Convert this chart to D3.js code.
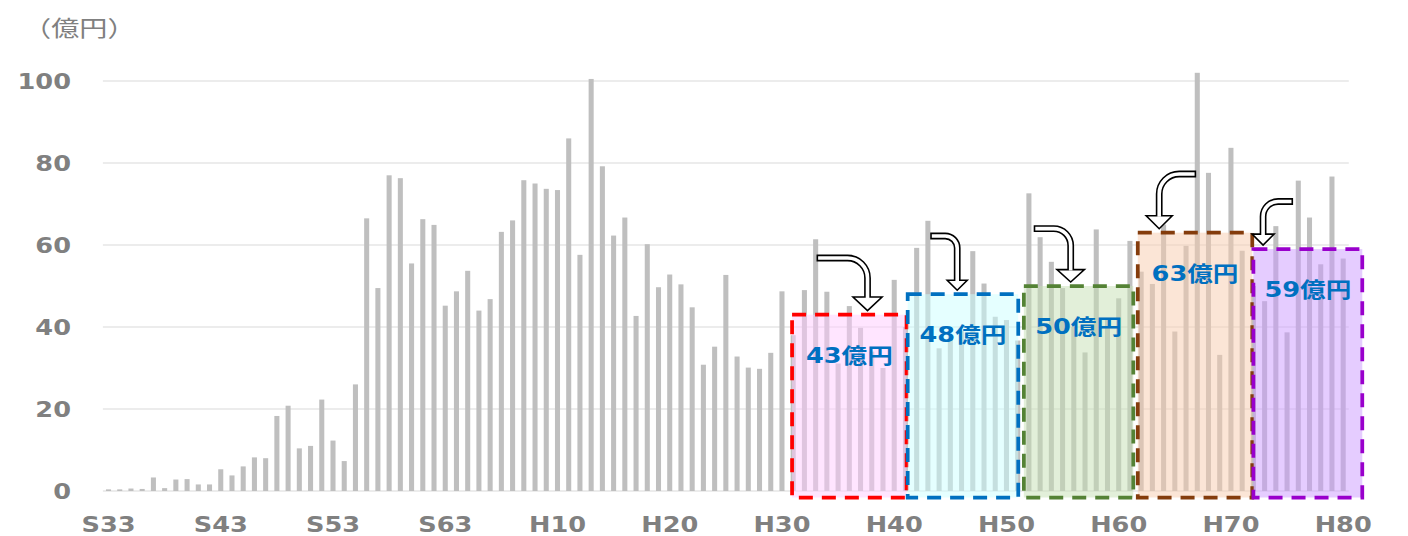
<!DOCTYPE html>
<html><head><meta charset="utf-8">
<script src="https://cdn.jsdelivr.net/npm/d3@7"></script>
<style>html,body{margin:0;padding:0;background:#fff;} svg{display:block;}</style>
</head><body><svg id="chart" width="1408" height="536"></svg>
<script>
// ---------- data ----------
const showaYears = d3.range(33, 64).map(n => "S" + n);   // S33..S63
const heiseiYears = d3.range(1, 81).map(n => "H" + n);   // H1..H80
const categories = showaYears.concat(heiseiYears);

const showaValues = [0.4, 0.4, 0.6, 0.5, 3.3, 0.7, 2.8, 2.9, 1.6, 1.6,
  5.3, 3.8, 6.0, 8.2, 8.0, 18.3, 20.8, 10.4, 11.0, 22.3,
  12.3, 7.3, 26.0, 66.5, 49.5, 77.0, 76.3, 55.5, 66.3, 64.9, 45.2];
const heiseiValues = [
  48.7, 53.7, 44.0, 46.8, 63.2, 66.0, 75.8, 75.0, 73.7, 73.4,
  86.0, 57.6, 100.5, 79.2, 62.3, 66.7, 42.7, 60.2, 49.7, 52.8,
  50.4, 44.8, 30.8, 35.2, 52.7, 32.8, 30.1, 29.8, 33.7, 48.7,
  38.0, 49.0, 61.4, 48.6, 31.1, 45.1, 39.8, 34.0, 30.0, 51.5,
  40.0, 59.3, 65.9, 34.8, 38.0, 39.0, 58.5, 50.6, 42.5, 41.7,
  36.7, 72.6, 61.9, 55.9, 49.5, 40.0, 33.8, 63.8, 42.0, 47.0,
  61.0, 53.5, 50.5, 65.0, 38.9, 59.8, 102.0, 77.6, 33.2, 83.7,
  58.6, 50.0, 46.3, 64.6, 38.7, 75.7, 66.7, 55.3, 76.7, 56.7];
const values = showaValues.concat(heiseiValues);

const xTickLabels = ["S33","S43","S53","S63","H10","H20","H30","H40","H50","H60","H70","H80"];
const yTicks = [0, 20, 40, 60, 80, 100];
const unitLabel = "（億円）";

const periodStart = ["H31","H41","H51","H61","H71"];
const periodEnd   = ["H40","H50","H60","H70","H80"];
const periodAverages = [43, 48, 50, 63, 59];
const periodLabels = periodAverages.map(v => v + "億円");

// ---------- layout / style ----------
const plotLeft = 102.9, plotRight = 1348.8;
const y0px = 491, y100px = 81;
const gray = "#808080";
const boxStroke = ["#ff0000", "#0070c0", "#548235", "#843c0c", "#9900cc"];
const boxFill   = ["#ffccff", "#ccffff", "#c5e0b4", "#f8cbad", "#cc99ff"];
// fractional offsets (in steps) of each box's left/right edge from the period's first/last bar centre
const boxOffsets = [[-0.1, 1.1], [0.2, 1.05], [0.55, 1.3], [0.7, 1.9], [1.0, 1.7]];
// bent arrows: vertical position as fraction of box width, shaft rise above tip, tail dx, radius, head half-width, head length
const arrows = [
  {frac: 0.659, rise: 52.7, tail: -51, r: 20, half: 14.5, len: 13.7},
  {frac: 0.448, rise: 54.2, tail: -27, r: 12, half: 10,   len: 10},
  {frac: 0.428, rise: 53.4, tail: -37, r: 17, half: 13.7, len: 12.4},
  {frac: 0.187, rise: 54.7, tail: 37,  r: 20, half: 13,   len: 13},
  {frac: 0.089, rise: 43.6, tail: 30,  r: 15, half: 11,   len: 11}
];

const svg = d3.select("#chart");
const x = d3.scaleBand().domain(categories).range([plotLeft, plotRight])
  .paddingInner(0.55).paddingOuter(0.275);
const y = d3.scaleLinear().domain([0, 100]).range([y0px, y100px]);
const step = x.step();
const xc = c => x(c) + x.bandwidth() / 2;

// gridlines
svg.append("g").selectAll("line").data(yTicks).join("line")
  .attr("x1", plotLeft).attr("x2", plotRight)
  .attr("y1", d => y(d)).attr("y2", d => y(d))
  .attr("stroke", "#d9d9d9").attr("stroke-width", 1);

// bars
svg.append("g").selectAll("rect").data(values).join("rect")
  .attr("x", (d, i) => x(categories[i]))
  .attr("width", x.bandwidth())
  .attr("y", d => y(d))
  .attr("height", d => y(0) - y(d))
  .attr("fill", "#bfbfbf");

// helper for horizontally stretched text
function stretchedText(g, tx, ty, str, anchor, opts) {
  return g.append("g").attr("transform", `translate(${tx},${ty}) scale(${opts.sx},1)`)
    .append("text").attr("x", 0).attr("y", 0)
    .attr("text-anchor", anchor)
    .attr("font-family", opts.family || "'DejaVu Sans', 'Noto Sans CJK JP', sans-serif")
    .attr("font-weight", opts.weight || "bold")
    .attr("font-size", opts.size)
    .attr("fill", opts.fill || gray)
    .text(str);
}

// y axis labels
const yg = svg.append("g");
yTicks.forEach(v => stretchedText(yg, 71, y(v) + 8, String(v), "end", {size: 21, sx: 1.22}));

// x axis labels
const xg = svg.append("g");
xTickLabels.forEach(c => stretchedText(xg, xc(c), 532, c, "middle", {size: 21, sx: 1.22}));

// unit label
stretchedText(svg.append("g"), 23, 36, unitLabel, "start",
  {family: "'Noto Sans CJK JP', sans-serif", weight: 400, size: 22, sx: 1.28});

// period boxes, labels, arrows
const ag = svg.append("g");
periodStart.forEach((s, k) => {
  const left = xc(s) + boxOffsets[k][0] * step;
  const right = xc(periodEnd[k]) + boxOffsets[k][1] * step;
  const top = y(periodAverages[k]);
  const bottom = y(0) + 6.5;
  ag.append("rect")
    .attr("x", left).attr("y", top)
    .attr("width", right - left).attr("height", bottom - top)
    .attr("fill", boxFill[k]).attr("fill-opacity", 0.5)
    .attr("stroke", boxStroke[k]).attr("stroke-width", 3.75)
    .attr("stroke-dasharray", "14,9");
  stretchedText(ag, (left + right) / 2, top + 48, periodLabels[k], "middle",
    {fill: "#0070c0", size: 21, sx: 1.22});

  // arrow
  const a = arrows[k];
  const vx = left + a.frac * (right - left);
  const tipY = top - 4;
  const baseY = tipY - a.len;
  const sy = tipY - a.rise;
  const tailX = vx + a.tail;
  const dir = a.tail < 0 ? -1 : 1;
  const sweep = a.tail < 0 ? 1 : 0;
  const shaft = (ext) => `M${tailX + dir * ext},${sy} H${vx + dir * a.r} A${a.r},${a.r} 0 0 ${sweep} ${vx},${sy + a.r} V${baseY + 1}`;
  ag.append("path").attr("d", shaft(0)).attr("fill", "none")
    .attr("stroke", "#000").attr("stroke-width", 6.8);
  ag.append("path")
    .attr("d", `M${vx - a.half},${baseY} L${vx + a.half},${baseY} L${vx},${tipY} Z`)
    .attr("fill", "#fff").attr("stroke", "#000").attr("stroke-width", 1.6)
    .attr("stroke-linejoin", "miter");
  ag.append("path").attr("d", shaft(-1.6)).attr("fill", "none")
    .attr("stroke", "#fff").attr("stroke-width", 3.6);
});
</script></body></html>
